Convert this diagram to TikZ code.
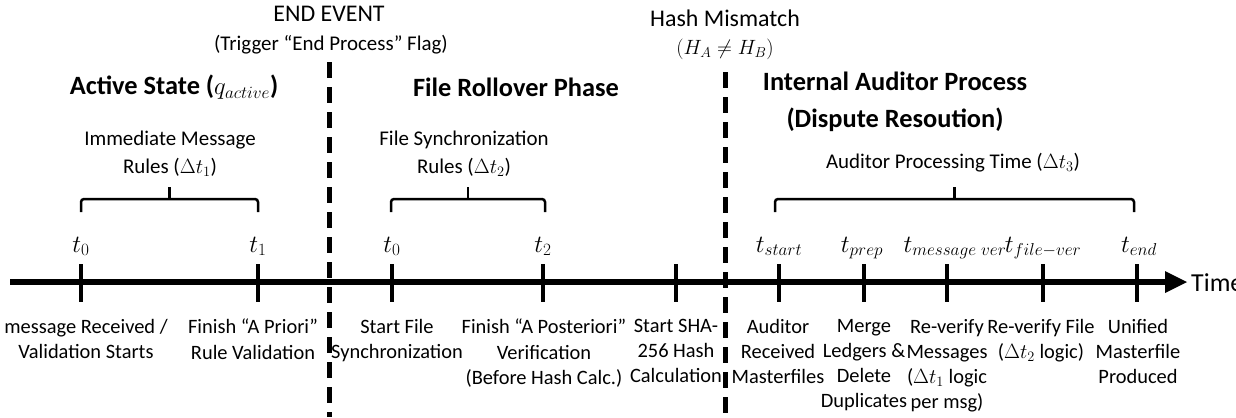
\documentclass[tikz,border=0pt]{standalone}
\usepackage{fontspec}
\setmainfont{Carlito}
\usetikzlibrary{arrows.meta}
\begin{document}
\begin{tikzpicture}[x=1bp,y=-1bp,
  lbl/.style={font=\fontsize{20.5}{25.2}\selectfont, align=center, anchor=north, inner sep=0pt, execute at begin node=\strut},
  tlbl/.style={font=\fontsize{23}{26}\selectfont, inner sep=0pt, anchor=base},
  head/.style={font=\bfseries\fontsize{26.5}{37}\selectfont, align=center, inner sep=0pt},
  note/.style={font=\fontsize{21}{28}\selectfont, align=center, inner sep=0pt},
  event/.style={font=\fontsize{24}{28}\selectfont, align=center, inner sep=0pt},
  tickmark/.style={line width=4bp},
  bracestyle/.style={line width=2.5bp, rounded corners=3bp},
  spike/.style={line width=2.5bp},
  divider/.style={line width=5bp, dash pattern=on 16bp off 9bp},
  axis/.style={line width=6bp}]
\useasboundingbox (0,0) rectangle (1236,417);

% dividers
\coordinate (d1top) at (329.5,62);
\coordinate (d1bot) at (329.5,417);
\coordinate (d2top) at (725,72);
\coordinate (d2bot) at (725,417);
\draw[divider] (d1top) -- (d1bot);
\draw[divider] (d2top) -- (d2bot);

% axis
\coordinate (axstart) at (10,282);
\coordinate (axend) at (1168,282);
\coordinate (tip) at (1187,282);
\draw[axis] (axstart) -- (axend);
\fill (1165,271) -- (tip) -- (1165,293) -- cycle;
\node[font=\fontsize{26}{30}\selectfont, anchor=west, inner sep=0pt] (time) at (1191,283) {Time};

% ticks
\foreach \n/\x in {a/81,b/258,c/392,d/543,e/676,f/779,g/864,h/947,i/1043,j/1137}{
  \coordinate (tk\n) at (\x,282);
  \draw[tickmark] (\x,264) -- (\x,302);
}

% time labels
\node[tlbl] (ta) at (81,252) {$t_0$};
\node[tlbl] (tb) at (258,252) {$t_1$};
\node[tlbl] (tc) at (392,252) {$t_0$};
\node[tlbl] (td) at (543,252) {$t_2$};
\node[tlbl] (tf) at (779,252) {$t_{start}$};
\node[tlbl] (tg) at (862,252) {$t_{prep}$};
\node[tlbl] (th) at (955,252) {$t_{message\ ver}$};
\node[tlbl] (ti) at (1043,252) {$t_{file-ver}$};
\node[tlbl] (tj) at (1139,252) {$t_{end}$};

% braces
\draw[bracestyle] (81,212) |- (169.5,199) -| (258,212);
\draw[spike] (169.5,199) -- (169.5,187);
\draw[bracestyle] (391,212) |- (468,199) -| (545,212);
\draw[spike] (468,199) -- (468,187);
\draw[bracestyle] (775,212) |- (954.5,199) -| (1134,212);
\draw[spike] (954.5,199) -- (954.5,187);

% headings
\node[head] (h1) at (174,87) {Active State (\mbox{\normalfont$q_{active}$})};
\node[head] (h2) at (516,87) {File Rollover Phase};
\node[head] (h3) at (895,102) {Internal Auditor Process\\(Dispute Resoution)};

% event labels
\node[event] (ev1) at (329,14) {END EVENT};
\node[note] (ev1b) at (331,45) {(Trigger “End Process” Flag)};
\node[event] (ev2) at (725,18) {Hash Mismatch};
\node[note] (ev2b) at (725,49) {$(H_A \neq H_B)$};

% interval labels
\node[note] (r1) at (170,154) {Immediate Message\\Rules ($\Delta t_1$)};
\node[note] (r2) at (464,154) {File Synchronization\\Rules ($\Delta t_2$)};
\node[note] (r3) at (953,163) {Auditor Processing Time ($\Delta t_3$)};

% bottom labels
\node[lbl] (la) at (86,319) {message Received /\\Validation Starts};
\node[lbl] (lb) at (253,319) {Finish “A Priori”\\Rule Validation};
\node[lbl] (lc) at (397,319) {Start File\\Synchronization};
\node[lbl] (ld) at (544,319) {Finish “A Posteriori”\\Verification\\(Before Hash Calc.)};
\node[lbl] (le) at (676,319) {Start SHA-\\256 Hash\\Calculation};
\node[lbl] (lf) at (778,319) {Auditor\\Received\\Masterfiles};
\node[lbl] (lg) at (864,319) {Merge\\Ledgers \&\\Delete\\Duplicates};
\node[lbl] (lh) at (947,319) {Re-verify\\Messages\\($\Delta t_1$ logic\\per msg)};
\node[lbl] (li) at (1041,319) {Re-verify File\\($\Delta t_2$ logic)};
\node[lbl] (lj) at (1138,319) {Unified\\Masterfile\\Produced};
\end{tikzpicture}
\end{document}
